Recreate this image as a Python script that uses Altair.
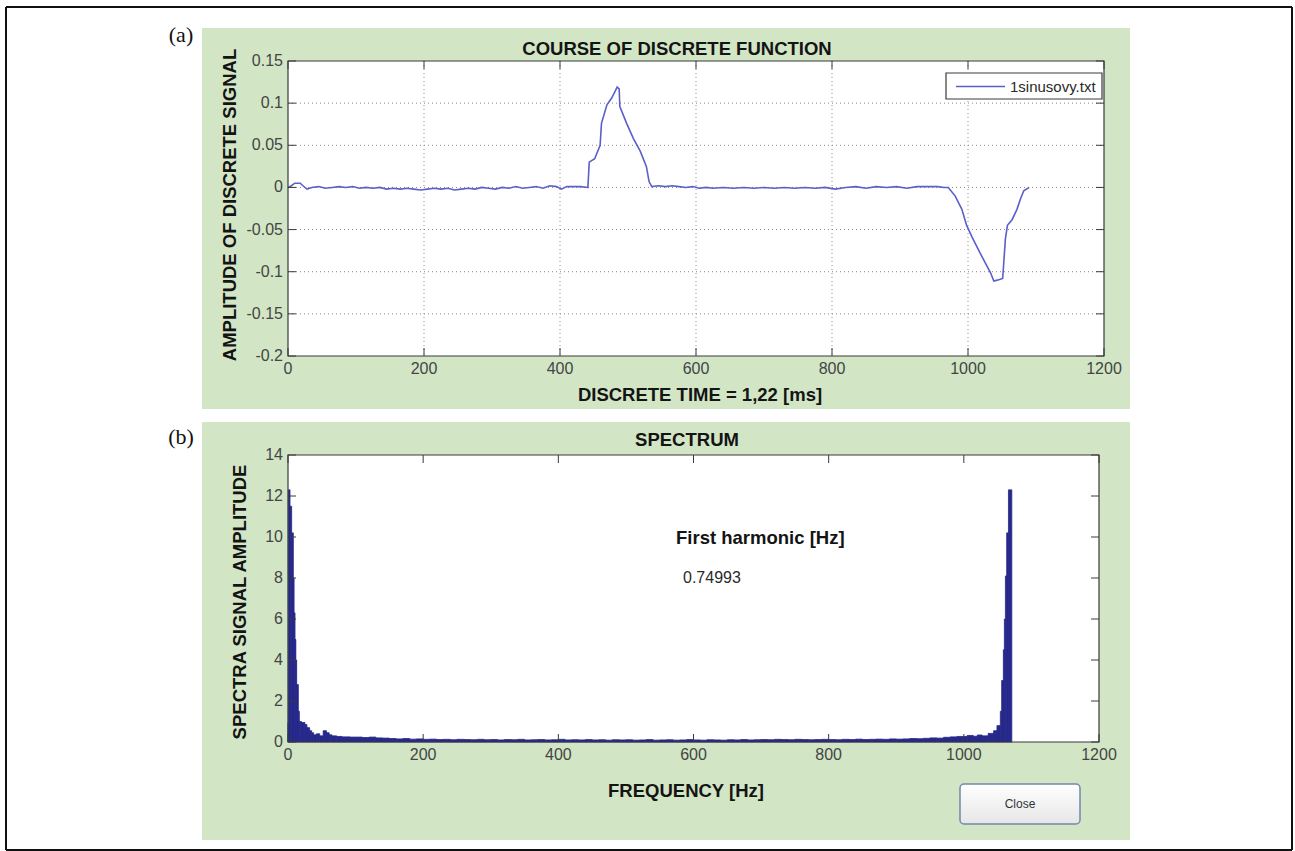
import altair as alt
import pandas as pd

# ---------------- data ----------------
sig_t = [0, 5, 10, 18, 22, 28, 35, 45, 55, 65, 75, 85, 95, 105, 115, 125, 135, 145, 155, 165,
         175, 185, 195, 205, 215, 225, 235, 245, 255, 265, 275, 285, 295, 305, 315, 325, 335,
         345, 355, 365, 375, 385, 395, 402, 410, 420, 430, 441,
         443, 451, 459, 461, 469, 476, 481, 484, 487, 488, 498, 508, 518, 527, 531, 535,
         545, 555, 565, 575, 585, 595, 605, 615, 625, 640, 655, 670, 685, 700, 715, 730, 745,
         760, 775, 790, 805, 820, 835, 850, 865, 880, 895, 910, 925, 940, 955, 965, 971,
         981, 991, 998, 1006, 1016, 1025, 1033, 1038, 1043, 1051, 1055, 1058, 1065, 1072,
         1077, 1082, 1090]
sig_v = [0.0, 0.002, 0.005, 0.005, 0.002, -0.002, 0.0, 0.001, -0.001, 0.0, 0.001, 0.0, 0.001,
         -0.001, 0.0, -0.001, 0.0, -0.002, -0.001, -0.002, -0.001, -0.002, -0.003, -0.002,
         -0.001, -0.002, -0.001, -0.003, -0.002, -0.001, -0.002, 0.0, -0.001, -0.002, 0.0,
         -0.001, 0.001, -0.001, 0.0, 0.001, -0.001, 0.002, 0.001, -0.002, 0.001, 0.001, 0.001, 0.0,
         0.030, 0.034, 0.050, 0.076, 0.098, 0.106, 0.114, 0.119, 0.117, 0.096, 0.076, 0.058,
         0.043, 0.025, 0.007, 0.001,
         0.002, 0.001, 0.002, 0.001, 0.0, 0.001, -0.001, 0.0, -0.001, 0.0, -0.001, 0.0, -0.001,
         0.0, -0.001, 0.0, -0.001, 0.0, -0.001, 0.0, -0.002, 0.0, 0.001, -0.001, 0.001, 0.0,
         0.001, -0.001, 0.001, 0.001, 0.001, 0.0, 0.0,
         -0.010, -0.026, -0.045, -0.059, -0.075, -0.089, -0.101, -0.111, -0.110, -0.108,
         -0.061, -0.045, -0.038, -0.026, -0.014, -0.004, 0.0]

x_ticks = [0, 200, 400, 600, 800, 1000, 1200]
x_labels = ["0", "200", "400", "600", "800", "1000", "1200"]
y1_ticks = [0.15, 0.1, 0.05, 0, -0.05, -0.1, -0.15, -0.2]
y1_labels = ["0.15", "0.1", "0.05", "0", "-0.05", "-0.1", "-0.15", "-0.2"]
y2_ticks = [0, 2, 4, 6, 8, 10, 12, 14]
y2_labels = ["0", "2", "4", "6", "8", "10", "12", "14"]

# spectrum, low-frequency part: bin edges and amplitudes
spec_low_edges = [0, 0.5, 3, 5.4, 7.9, 9, 10.4, 11.6, 12.8, 15.3, 16.8, 20, 25, 28, 32, 35,
                  38, 42, 47, 52, 57, 61, 65, 72, 80, 92, 100]
spec_low_amp = [0.95, 12.3, 11.5, 10.2, 8.0, 6.3, 5.0, 4.0, 2.8, 1.5, 1.0, 0.95, 0.85, 0.7,
                0.55, 0.45, 0.35, 0.4, 0.3, 0.55, 0.45, 0.35, 0.3, 0.27, 0.25, 0.24]
# spectrum, middle part: 10 Hz bins from 100 to 1000 Hz
spec_mid_amp = [0.24, 0.22, 0.24, 0.2, 0.19, 0.17, 0.15, 0.17, 0.14, 0.15,
                0.13, 0.14, 0.12, 0.13, 0.11, 0.13, 0.12, 0.11, 0.13, 0.11,
                0.12, 0.1, 0.12, 0.11, 0.13, 0.1, 0.11, 0.12, 0.1, 0.11,
                0.13, 0.1, 0.11, 0.1, 0.12, 0.1, 0.11, 0.09, 0.11, 0.1,
                0.11, 0.09, 0.1, 0.12, 0.09, 0.1, 0.11, 0.09, 0.1, 0.12,
                0.1, 0.09, 0.11, 0.1, 0.09, 0.11, 0.1, 0.12, 0.1, 0.11,
                0.12, 0.11, 0.13, 0.12, 0.11, 0.13, 0.12, 0.11, 0.12, 0.13,
                0.12, 0.11, 0.13, 0.12, 0.14, 0.12, 0.13, 0.14, 0.13, 0.15,
                0.14, 0.15, 0.17, 0.16, 0.18, 0.2, 0.19, 0.23, 0.25, 0.27]
spec_mid_start = 100
spec_mid_step = 10
# spectrum, high-frequency (mirrored) part
spec_high_edges = [1000, 1005, 1014, 1020, 1027, 1036, 1044, 1049, 1054, 1056, 1058.5, 1060,
                   1061.5, 1063.4, 1066, 1071]
spec_high_amp = [0.27, 0.32, 0.28, 0.34, 0.3, 0.42, 0.55, 0.8, 1.5, 3.0, 4.5, 6.0, 8.1, 10.2, 12.3]

legend_label = "1sinusovy.txt"
harmonic_value = "0.74993"

# ---------------- tables ----------------
sig_df = pd.DataFrame({"t": sig_t, "v": sig_v})
f0, f1, amp = [], [], []
for i, a in enumerate(spec_low_amp):
    f0.append(spec_low_edges[i]); f1.append(spec_low_edges[i + 1]); amp.append(a)
for i, a in enumerate(spec_mid_amp):
    f0.append(spec_mid_start + i * spec_mid_step)
    f1.append(spec_mid_start + (i + 1) * spec_mid_step)
    amp.append(a)
for i, a in enumerate(spec_high_amp):
    f0.append(spec_high_edges[i]); f1.append(spec_high_edges[i + 1]); amp.append(a)
spec_df = pd.DataFrame({"f0": f0, "f1": f1, "amp": amp})

one = pd.DataFrame({"k": [0]})

GREEN = "#d2e6c6"
FRAME = "#111111"
BOX = "#3a3a3a"
LABEL = "#444444"
TITLE = "#141414"
SANS = "Liberation Sans"
TICK = 8


def rect(x1, x2, y1, y2, **kw):
    return alt.Chart(one).mark_rect(**kw).encode(
        x=alt.value(x1), x2=alt.value(x2), y=alt.value(y1), y2=alt.value(y2))


def vrule(x, y1, y2, **kw):
    return alt.Chart(one).mark_rule(**kw).encode(
        x=alt.value(x), y=alt.value(y1), y2=alt.value(y2))


def hrule(y, x1, x2, **kw):
    return alt.Chart(one).mark_rule(**kw).encode(
        y=alt.value(y), x=alt.value(x1), x2=alt.value(x2))


def text(s, x, y, size=18.5, bold=True, font=SANS, color=TITLE, **kw):
    return alt.Chart(one).mark_text(
        text=s, font=font, fontSize=size, fontWeight="bold" if bold else "normal",
        color=color, **kw).encode(x=alt.value(x), y=alt.value(y))


def tick_layers(xs, ys, W, H, xticks, yticks, xlabels, ylabels, xlab_dy):
    xt = pd.DataFrame({"xt": xticks, "xl": xlabels})
    yt = pd.DataFrame({"yt": yticks, "yl": ylabels})
    st = dict(color=BOX, strokeWidth=1)
    lab = dict(font=SANS, fontSize=16, color=LABEL, baseline="middle")
    return [
        alt.Chart(xt).mark_rule(**st).encode(x=alt.X("xt:Q", scale=xs, axis=None),
                                             y=alt.value(H), y2=alt.value(H - TICK)),
        alt.Chart(xt).mark_rule(**st).encode(x=alt.X("xt:Q", scale=xs, axis=None),
                                             y=alt.value(0), y2=alt.value(TICK)),
        alt.Chart(yt).mark_rule(**st).encode(y=alt.Y("yt:Q", scale=ys, axis=None),
                                             x=alt.value(0), x2=alt.value(TICK)),
        alt.Chart(yt).mark_rule(**st).encode(y=alt.Y("yt:Q", scale=ys, axis=None),
                                             x=alt.value(W), x2=alt.value(W - TICK)),
        alt.Chart(xt).mark_text(align="center", **lab).encode(
            x=alt.X("xt:Q", scale=xs, axis=None), y=alt.value(H + xlab_dy), text="xl:N"),
        alt.Chart(yt).mark_text(align="right", **lab).encode(
            y=alt.Y("yt:Q", scale=ys, axis=None), x=alt.value(-5), text="yl:N"),
    ]


FR = dict(color=FRAME, strokeWidth=2)

# ---------------- panel (a) ----------------
W1, H1 = 816, 295
xs1 = alt.Scale(domain=[0, 1200], nice=False, zero=False)
ys1 = alt.Scale(domain=[-0.2, 0.15], nice=False, zero=False)

grid_x = alt.Chart(pd.DataFrame({"gx": x_ticks[1:-1]})).mark_rule(
    color="#8a8a8a", strokeWidth=1, strokeDash=[1, 3]).encode(
    x=alt.X("gx:Q", scale=xs1, axis=None), y=alt.value(0), y2=alt.value(H1))
grid_y = alt.Chart(pd.DataFrame({"gy": y1_ticks[1:-1]})).mark_rule(
    color="#8a8a8a", strokeWidth=1, strokeDash=[1, 3]).encode(
    y=alt.Y("gy:Q", scale=ys1, axis=None), x=alt.value(0), x2=alt.value(W1))

line = alt.Chart(sig_df).mark_line(color="#5a60c8", strokeWidth=1.6).encode(
    x=alt.X("t:Q", scale=xs1, axis=None),
    y=alt.Y("v:Q", scale=ys1, axis=None))

panel_a = alt.layer(
    rect(-86, 842, -33, 348, fill=GREEN),
    rect(0, W1, 0, H1, fill="white"),
    grid_x, grid_y, line,
    *tick_layers(xs1, ys1, W1, H1, x_ticks, y1_ticks, x_labels, y1_labels, 13),
    rect(0, W1, 0, H1, fill="white", fillOpacity=0, stroke=BOX, strokeWidth=1.2),
    rect(658, 814, 12, 38, fill="white", stroke=BOX, strokeWidth=1.2),
    hrule(25.5, 668, 717, color="#5a60c8", strokeWidth=1.6),
    text(legend_label, 722, 25.5, size=15, bold=False, align="left", baseline="middle",
         color="#2a2a2a"),
    text("COURSE OF DISCRETE FUNCTION", 389, -12, align="center", baseline="middle"),
    text("AMPLITUDE OF DISCRETE SIGNAL", -58, 144, angle=270, align="center",
         baseline="middle"),
    text("DISCRETE TIME = 1,22 [ms]", 412, 334, align="center", baseline="middle"),
    text("(a)", -107, -26, size=22, bold=False, font="Liberation Serif", align="center",
         baseline="middle", color="#111"),
    vrule(-282, -54, 353, **FR),
    vrule(1004, -54, 353, **FR),
    hrule(-54, -282, 1004, **FR),
).properties(width=W1, height=H1)

# ---------------- panel (b) ----------------
W2, H2 = 811, 287
xs2 = alt.Scale(domain=[0, 1200], nice=False, zero=False)
ys2 = alt.Scale(domain=[0, 14], nice=False, zero=False)

bars = alt.Chart(spec_df).mark_rect(color="#26288a", stroke="#26288a",
                                   strokeWidth=0.8).encode(
    x=alt.X("f0:Q", scale=xs2, axis=None),
    x2="f1:Q",
    y=alt.Y("amp:Q", scale=ys2, axis=None),
    y2=alt.datum(0))

close_fill = alt.Gradient(gradient="linear", x1=0, y1=0, x2=0, y2=1,
                          stops=[alt.GradientStop(offset=0, color="#ffffff"),
                                 alt.GradientStop(offset=1, color="#e6e6e6")])

panel_b = alt.layer(
    rect(-86, 842, -33, 385, fill=GREEN),
    rect(0, W2, 0, H2, fill="white"),
    bars,
    *tick_layers(xs2, ys2, W2, H2, x_ticks, y2_ticks, x_labels, y2_labels, 13),
    rect(0, W2, 0, H2, fill="white", fillOpacity=0, stroke=BOX, strokeWidth=1.2),
    text("SPECTRUM", 399, -15, align="center", baseline="middle"),
    text("First harmonic [Hz]", 388, 83, align="left", baseline="middle"),
    text(harmonic_value, 395, 123, size=16, bold=False, align="left", baseline="middle",
         color="#2a2a2a"),
    text("SPECTRA SIGNAL AMPLITUDE", -48, 147, angle=270, align="center",
         baseline="middle"),
    text("FREQUENCY [Hz]", 398, 336, align="center", baseline="middle"),
    rect(672, 792, 329, 369, fill=close_fill, stroke="#7188aa", strokeWidth=1.5,
         cornerRadius=4),
    text("Close", 732, 349, size=12, bold=False, align="center", baseline="middle",
         color="#333"),
    text("(b)", -107, -18, size=22, bold=False, font="Liberation Serif", align="center",
         baseline="middle", color="#111"),
    vrule(-282, -41, 395, **FR),
    vrule(1004, -41, 395, **FR),
    hrule(395, -282, 1004, **FR),
).properties(width=W2, height=H2)

chart = alt.vconcat(panel_a, panel_b, spacing=-2).properties(
    padding={"left": 5, "top": 6, "right": 2, "bottom": 0},
    background="white",
).configure_view(strokeWidth=0)

chart.save("out.html", embed_options={"renderer": "svg", "actions": False})
